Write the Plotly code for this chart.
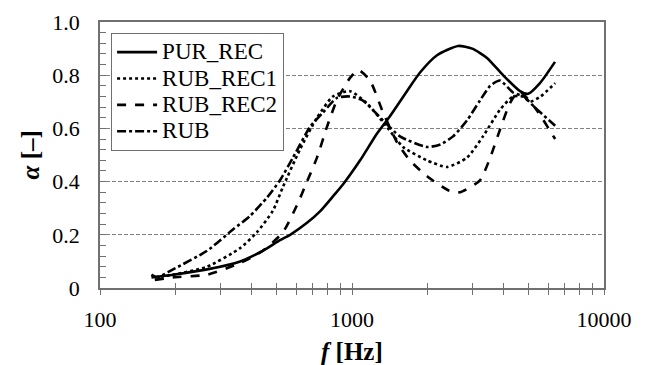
import plotly.graph_objects as go

# ---- data ----
pur_f = [160, 195, 266, 360, 443, 518, 568, 663, 750, 850, 922, 1077, 1255, 1412, 1652, 1862, 2175, 2636, 3000, 3433, 3975, 4642, 5000, 5570, 6390]
pur_a = [0.04, 0.05, 0.07, 0.10, 0.14, 0.18, 0.20, 0.245, 0.29, 0.35, 0.39, 0.48, 0.58, 0.645, 0.74, 0.81, 0.875, 0.91, 0.90, 0.865, 0.80, 0.74, 0.73, 0.77, 0.85]

rec1_f = [165, 195, 266, 360, 420, 485, 532, 621, 726, 840, 982, 1144, 1377, 1594, 1985, 2383, 2860, 3310, 3865, 4354, 4770, 5086, 5600, 6400]
rec1_a = [0.04, 0.05, 0.08, 0.15, 0.21, 0.29, 0.38, 0.52, 0.64, 0.72, 0.74, 0.695, 0.605, 0.53, 0.48, 0.455, 0.49, 0.57, 0.67, 0.72, 0.72, 0.70, 0.72, 0.77]

rec2_f = [165, 195, 266, 360, 443, 532, 604, 663, 726, 795, 872, 982, 1058, 1179, 1328, 1515, 1697, 1985, 2438, 2680, 3220, 3534, 3865, 4236, 4600, 5300, 6400]
rec2_a = [0.03, 0.04, 0.05, 0.094, 0.14, 0.21, 0.31, 0.40, 0.49, 0.605, 0.707, 0.79, 0.82, 0.78, 0.66, 0.545, 0.48, 0.42, 0.365, 0.36, 0.405, 0.49, 0.595, 0.695, 0.74, 0.68, 0.56]

rub_f = [160, 168, 195, 266, 337, 393, 460, 518, 583, 681, 768, 872, 982, 1102, 1328, 1550, 1985, 2248, 2518, 2860, 3220, 3534, 3865, 4354, 4800, 5300, 6400]
rub_a = [0.05, 0.04, 0.07, 0.14, 0.22, 0.27, 0.34, 0.405, 0.49, 0.605, 0.66, 0.715, 0.72, 0.705, 0.63, 0.57, 0.53, 0.54, 0.57, 0.63, 0.705, 0.76, 0.78, 0.735, 0.72, 0.68, 0.61]

series_names = ["PUR_REC", "RUB_REC1", "RUB_REC2", "RUB"]

y_ticks = [0, 0.2, 0.4, 0.6, 0.8, 1.0]
y_ticktext = ["0", "0.2", "0.4", "0.6", "0.8", "1.0"]
x_ticks = [100, 1000, 10000]
x_ticktext = ["100", "1000", "10000"]
x_minor = [200, 300, 400, 500, 600, 700, 800, 900, 2000, 3000, 4000, 5000, 6000, 7000, 8000, 9000]

FONT = "Liberation Serif"
AX = "#707070"

fig = go.Figure()
series = [
    (series_names[0], pur_f, pur_a, "solid"),
    (series_names[1], rec1_f, rec1_a, "dot"),
    (series_names[2], rec2_f, rec2_a, "dash"),
    (series_names[3], rub_f, rub_a, "dashdot"),
]
for name, f, a, dash in series:
    fig.add_trace(go.Scatter(
        x=f, y=a, name='<span style="font-size:23px">' + name + '</span>', mode="lines",
        line=dict(color="black", width=2.6, dash=dash, shape="spline", smoothing=0.6),
    ))

# invisible trace to activate overlaying axis for inside ticks (cross ticks)
fig.add_trace(go.Scatter(x=[100, 10000], y=[0, 0], xaxis="x2", mode="lines",
                         line=dict(width=0), showlegend=False, hoverinfo="skip"))

fig.update_layout(
    width=639, height=357,
    margin=dict(l=92, r=43, t=14, b=77, autoexpand=False),
    paper_bgcolor="white", plot_bgcolor="white",
    font=dict(family=FONT, size=21, color="black"),
    showlegend=True,
    legend=dict(
        x=0.022, y=0.959, xanchor="left", yanchor="top",
        bgcolor="white", bordercolor=AX, borderwidth=1,
        font=dict(family=FONT, size=18, color="black"),
        tracegroupgap=0, itemwidth=40,
    ),
    xaxis=dict(
        type="log", range=[2, 4], automargin=False,
        tickvals=x_ticks, ticktext=x_ticktext,
        ticks="outside", ticklen=5, tickcolor=AX, tickwidth=1.2,
        minor=dict(tickvals=x_minor, ticks="outside", ticklen=5, tickcolor=AX, tickwidth=1.2, showgrid=False),
        showgrid=False, zeroline=False,
        showline=True, linecolor=AX, linewidth=1.5, mirror=True,
        ticklabelstandoff=6,
        tickfont=dict(family=FONT, size=22, color="black"),
    ),
    xaxis2=dict(
        type="log", range=[2, 4], overlaying="x", side="bottom", automargin=False,
        tickvals=x_ticks, ticks="inside", ticklen=5, tickcolor=AX, tickwidth=1.2,
        minor=dict(tickvals=x_minor, ticks="inside", ticklen=5, tickcolor=AX, tickwidth=1.2, showgrid=False),
        showticklabels=False, showgrid=False, zeroline=False, showline=False,
    ),
    yaxis=dict(
        range=[0, 1], automargin=False,
        tickvals=y_ticks, ticktext=y_ticktext,
        ticks="inside", ticklen=6, tickcolor=AX, tickwidth=1.2,
        minor=dict(dtick=0.04, ticks="inside", ticklen=6, tickcolor=AX, tickwidth=1.2, showgrid=False),
        showgrid=True, gridcolor="#808080", gridwidth=1, griddash="4px,2px",
        zeroline=False,
        showline=True, linecolor=AX, linewidth=1.5, mirror=True,
        ticklabelstandoff=14,
        tickfont=dict(family=FONT, size=22, color="black"),
    ),
    annotations=[
        dict(text="<b><i>f</i> [Hz]</b>", xref="paper", yref="paper",
             x=0.5, y=-0.24, xanchor="center", yanchor="middle", showarrow=False,
             font=dict(family=FONT, size=25, color="black")),
        dict(text="<b><i>α</i> [–]</b>", xref="paper", yref="paper",
             x=-0.138, y=0.5, xanchor="center", yanchor="middle", showarrow=False,
             textangle=-90, font=dict(family=FONT, size=25, color="black")),
    ],
)

fig.write_html("out.html")
